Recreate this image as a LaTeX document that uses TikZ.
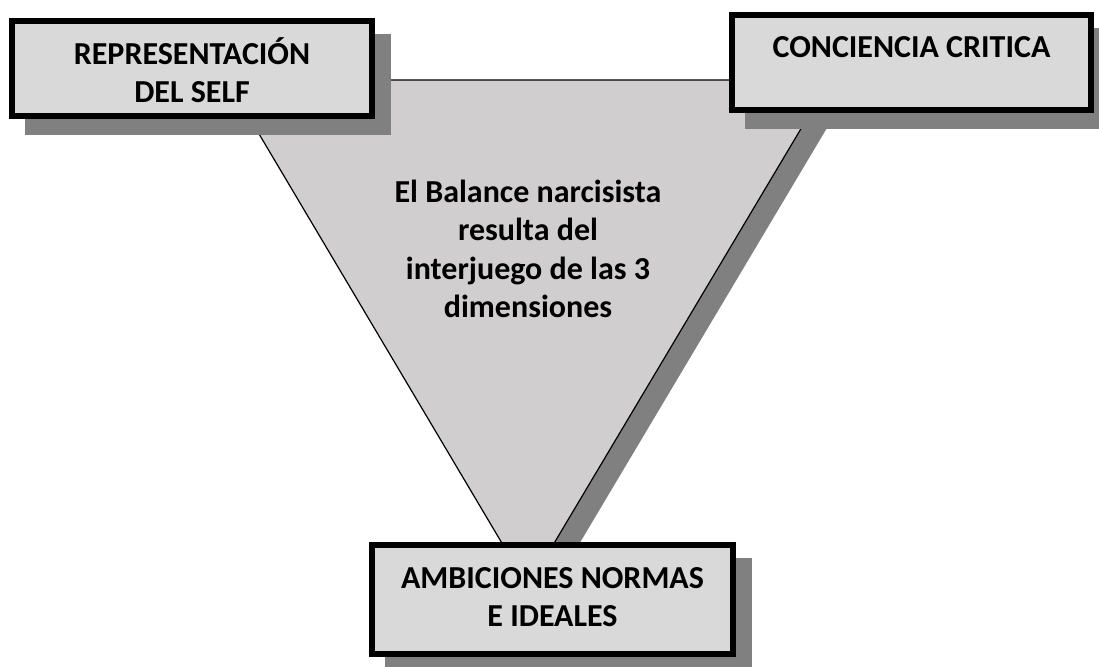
\documentclass[tikz,border=0pt]{standalone}
\usepackage{fontspec}
\setmainfont{Carlito}
\definecolor{boxfill}{HTML}{D9D9D9}
\definecolor{trifill}{HTML}{D0CECE}
\definecolor{shadowgray}{HTML}{808080}
\tikzset{
  boxframe/.style={draw=black, line width=6pt, fill=boxfill, rectangle, inner sep=0pt},
  shadowfill/.style={fill=shadowgray, draw=none},
  lbl/.style={font=\fontsize{32}{38.5}\selectfont\bfseries, align=center, anchor=north, inner sep=0pt},
}
\newcommand{\firstline}{\rule{0pt}{30pt}}
\begin{document}
\begin{tikzpicture}[x=1pt,y=-1pt]
\useasboundingbox (0,0) rectangle (1099,666);
% triangle
\coordinate (t1) at (227,80);
\coordinate (t2) at (830,80);
\coordinate (t3) at (528,587);
\fill[shadowfill] ([shift={(16,16)}]t1) -- ([shift={(16,16)}]t2) -- ([shift={(16,16)}]t3) -- cycle;
\draw[fill=trifill, line width=1.2pt, line join=miter] (t1) -- (t2) -- (t3) -- cycle;
\node[lbl] (centre) at (528,172) {\firstline El Balance narcisista\\resulta del\\interjuego de las 3\\dimensiones};
% boxes
\node[minimum width=360pt, minimum height=95pt, inner sep=0pt] (rep) at (192,68.5) {};
\node[minimum width=359pt, minimum height=95pt, inner sep=0pt] (con) at (911.5,62.5) {};
\node[minimum width=361pt, minimum height=109pt, inner sep=0pt] (amb) at (552.5,599.5) {};
\foreach \b in {rep,con,amb}{
  \fill[shadowfill] ([shift={(13,19)}]\b.south west) rectangle ([shift={(19,13)}]\b.north east);
  \draw[boxframe] (\b.south west) rectangle (\b.north east);
}
\node[lbl] (rept) at (192,34) {\firstline REPRESENTACIÓN\\DEL SELF};
\node[lbl] (cont) at (911.5,27) {\firstline CONCIENCIA CRITICA};
\node[lbl] (ambt) at (552.5,558) {\firstline AMBICIONES NORMAS\\E IDEALES};
\end{tikzpicture}
\end{document}
